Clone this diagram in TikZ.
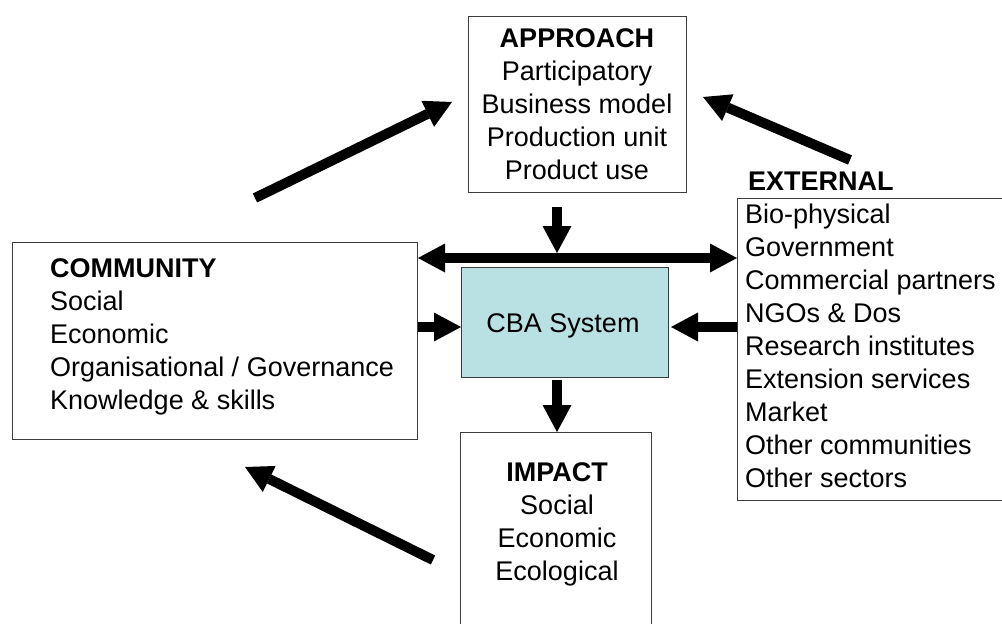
\documentclass[tikz,border=0pt]{standalone}
\usepackage{fontspec}
\setmainfont{Liberation Sans}
\usetikzlibrary{arrows.meta}
\definecolor{sysfill}{RGB}{185,225,228}
\definecolor{frame}{RGB}{60,60,60}
\begin{document}
\begin{tikzpicture}[x=1pt,y=-1pt,
  box/.style={draw=frame,line width=1pt,inner sep=0pt,anchor=north west},
  txt/.style={inner sep=0pt,font=\fontsize{27}{33}\selectfont},
  bigtip/.tip={Triangle[length=27pt,width=29pt,line width=0pt]},
  bigarrow/.style={line width=10pt,-bigtip},
  twoway/.style={line width=10pt,bigtip-bigtip},
  ]
\useasboundingbox (0,0) rectangle (1002,624);
\clip (0,0) rectangle (1002,624);

% boxes
\node[box,minimum width=218pt,minimum height=176pt] (approach) at (468,16) {};
\node[box,minimum width=405pt,minimum height=197pt] (community) at (12,242) {};
\node[box,fill=sysfill,minimum width=207pt,minimum height=110pt] (cba) at (461,267) {};
\node[box,minimum width=280pt,minimum height=302pt] (external) at (737,198) {};
\node[box,minimum width=191pt,minimum height=200pt] (impact) at (460,432) {};

% texts
\node[txt,align=center,anchor=north] (approachtxt) at (577,28.5)
  {\textbf{APPROACH}\\Participatory\\Business model\\Production unit\\Product use};
\node[txt,align=left,anchor=north west] (communitytxt) at (50,258.5)
  {\textbf{COMMUNITY}\\Social\\Economic\\Organisational / Governance\\Knowledge \& skills};
\node[txt,anchor=base] (cbatxt) at (563,332) {CBA System};
\node[txt,anchor=north west] (externalhead) at (748,171.5) {\textbf{EXTERNAL}};
\node[txt,align=left,anchor=north west] (externaltxt) at (745,203.5)
  {Bio-physical\\Government\\Commercial partners\\NGOs \& Dos\\Research institutes\\Extension services\\Market\\Other communities\\Other sectors};
\node[txt,align=center,anchor=north] (impacttxt) at (557,462.5)
  {\textbf{IMPACT}\\Social\\Economic\\Ecological};

% free arrow ends
\coordinate (approachout) at (557,207);
\coordinate (crossbar) at (557,253);
\coordinate (cbaout) at (557,380);
\coordinate (communityout) at (255,198);
\coordinate (approachin) at (452,102);
\coordinate (externalout) at (850,160);
\coordinate (approachin2) at (703,97);
\coordinate (impactout) at (433,560);
\coordinate (communityin) at (245,467);

% connectors
\draw[bigarrow] (approachout) -- (crossbar);
\draw[twoway] (community.east |- 0,258) -- (external.west |- 0,258);
\draw[bigarrow] (community.east |- 0,327) -- (cba.west |- 0,327);
\draw[bigarrow] (external.west |- 0,327) -- ([xshift=2pt]cba.east |- 0,327);
\draw[bigarrow] (cbaout) -- (impact.north -| cbaout);
\draw[bigarrow] (communityout) -- (approachin);
\draw[bigarrow] (externalout) -- (approachin2);
\draw[bigarrow] (impactout) -- (communityin);
\end{tikzpicture}
\end{document}
